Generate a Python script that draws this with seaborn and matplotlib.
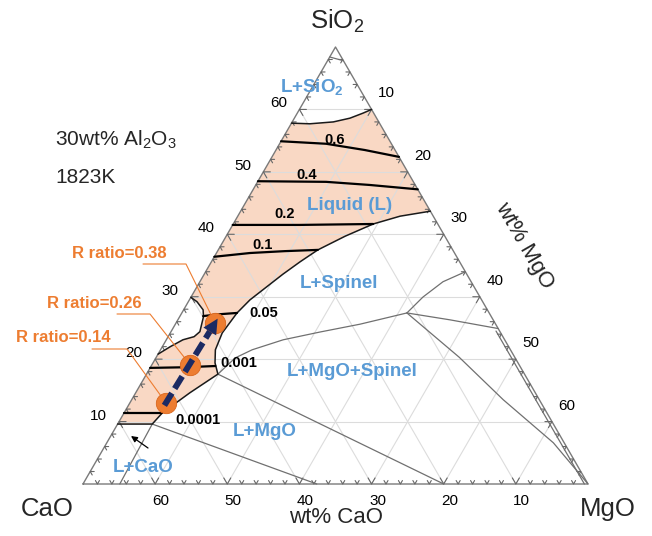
import numpy as np
import pandas as pd
import matplotlib
matplotlib.use("Agg")
import matplotlib.pyplot as plt
import seaborn as sns

# ---------------- data (wt%; Al2O3 fixed at 30 wt% -> CaO+SiO2+MgO = 70) -------------
TOTAL = 70.0
axis_ticks = [10, 20, 30, 40, 50, 60]

# L / L+SiO2 boundary
bnd_sio2_SiO2 = [57.8, 57.7, 58.0, 58.6, 59.4, 60.0]
bnd_sio2_MgO = [0.0, 2.6, 5.7, 7.7, 9.1, 10.0]
# liquidus towards L+Spinel / L+MgO (right edge -> junction)
liq_SiO2 = [43.7, 42.9, 41.65, 39.7, 37.5, 35.6, 33.6, 29.5, 27.4, 24.2, 21.5, 19.4, 17.6]
liq_MgO = [26.3, 22.5, 19.4, 16.5, 13.8, 12.3, 10.9, 8.4, 7.65, 7.2, 7.6, 8.6, 9.9]
# lower liquid boundary (junction -> CaO-SiO2 edge)
low_SiO2 = [17.6, 14.6, 11.4, 9.6, 9.6]
low_MgO = [9.9, 7.5, 5.3, 4.8, 0.0]
# small pocket on the CaO-SiO2 edge
pocket_SiO2 = [29.9, 29.2, 27.9, 26.8, 24.4, 23.6, 23.1, 22.0, 20.8]
pocket_MgO = [0.0, 1.2, 2.7, 3.3, 4.0, 3.6, 2.3, 1.1, 0.0]

# iso-R-ratio lines
iso_labels = ["0.6", "0.4", "0.2", "0.1", "0.05", "0.001", "0.0001"]
iso_06_SiO2, iso_06_MgO = [54.9, 54.5, 53.5, 52.4], [0.0, 6.45, 12.3, 17.6]
iso_04_SiO2, iso_04_MgO = [48.5, 48.4, 47.9, 47.2], [0.0, 9.5, 15.8, 22.8]
iso_02_SiO2, iso_02_MgO = [41.5, 41.5, 41.65], [0.0, 9.3, 19.4]
iso_01_SiO2, iso_01_MgO = [36.4, 37.0, 37.3, 37.5], [0.0, 4.65, 9.3, 13.8]
iso_005_SiO2, iso_005_MgO = [26.9, 27.2, 27.4], [3.2, 5.4, 7.65]
iso_0001_SiO2, iso_0001_MgO = [18.6, 18.7, 18.9], [0.0, 4.8, 8.9]
iso_00001_SiO2, iso_00001_MgO = [11.4, 11.4], [0.0, 5.3]

# other phase boundaries (thin grey)
b_mgo_sp_SiO2, b_mgo_sp_MgO = [17.6, 0.0], [9.9, 50.0]
b_cao_mgo_SiO2, b_cao_mgo_MgO = [9.6, 0.0], [4.8, 32.4]
b_cao_SiO2, b_cao_MgO = [9.6, 0.0], [4.8, 5.1]
b_sp_SiO2 = [17.6, 20.2, 21.5, 23.1, 24.35, 25.6, 27.4]
b_sp_MgO = [9.9, 11.0, 12.7, 16.2, 20.7, 25.6, 31.2]
b_up_SiO2, b_up_MgO = [27.4, 29.95, 32.4, 34.0], [31.2, 32.15, 33.7, 36.0]
b_edge_SiO2, b_edge_MgO = [27.4, 26.3, 24.9], [31.2, 37.7, 45.1]
b_corner_SiO2 = [27.4, 20.3, 13.5, 6.6, 0.0]
b_corner_MgO = [31.2, 42.0, 51.5, 61.9, 70.0]
b_rim_SiO2, b_rim_MgO = [24.5, 0.0], [45.0, 69.5]
b_apex_SiO2, b_apex_MgO = [68.4, 67.8], [0.0, 2.2]

# experimental compositions
pt_SiO2 = [13.0, 19.1, 25.8]
pt_MgO = [5.0, 5.3, 5.4]
pt_labels = ["R ratio=0.14", "R ratio=0.26", "R ratio=0.38"]

# ---------------- styling ----------------
sns.set_theme(style="white")
plt.rcParams["font.family"] = ["Liberation Sans", "DejaVu Sans"]
plt.rcParams["mathtext.fontset"] = "custom"
plt.rcParams["mathtext.rm"] = "Liberation Sans"
plt.rcParams["mathtext.it"] = "Liberation Sans:italic"
plt.rcParams["mathtext.bf"] = "Liberation Sans:bold"

BLUE = "#5a9bd5"
ORANGE = "#ED7D31"
FILL = "#f9d8c4"
NAVY = "#1b2a63"
GREY = "#707070"

X0, Y0, W, H = 83.0, 484.0, 505.0, 437.0


def xy(s, m):
    s = np.asarray(s, float)
    m = np.asarray(m, float)
    return X0 + W * (m + s / 2.0) / TOTAL, Y0 - H * s / TOTAL


fig = plt.figure(figsize=(6.52, 5.36), dpi=100)
ax = fig.add_axes([0, 0, 1, 1])
ax.set_xlim(0, 652)
ax.set_ylim(536, 0)
ax.axis("off")

# liquid region fill
poly_s = bnd_sio2_SiO2 + liq_SiO2 + low_SiO2[1:] + pocket_SiO2[::-1]
poly_m = bnd_sio2_MgO + liq_MgO + low_MgO[1:] + pocket_MgO[::-1]
px, py = xy(poly_s, poly_m)
ax.fill(px, py, color=FILL, zorder=1, lw=0)

# grid
for v in axis_ticks:
    for (s1, m1, s2, m2) in [(v, 0, v, TOTAL - v), (0, v, TOTAL - v, v), (0, TOTAL - v, TOTAL - v, 0)]:
        gx, gy = xy([s1, s2], [m1, m2])
        ax.plot(gx, gy, color="#dcdcdc", lw=0.8, zorder=2)

# triangle frame
tx, ty = xy([0, 0, TOTAL, 0], [0, TOTAL, 0, 0])
ax.plot(tx, ty, color="#7a7a7a", lw=1.0, zorder=3)

# ticks (chevrons)
d_ul, d_ur = np.array([-0.5, -0.866]), np.array([0.5, -0.866])
d_r, d_dr = np.array([1.0, 0.0]), np.array([0.5, 0.866])
d_l, d_dl = np.array([-1.0, 0.0]), np.array([-0.5, 0.866])
for v in range(2, 70, 2):
    L = 7.0 if v % 10 == 0 else 4.0
    specs = [(xy(0, TOTAL - v), d_ul, d_ur),  # bottom, CaO = v
             (xy(v, 0), d_r, d_dr),           # left, SiO2 = v
             (xy(TOTAL - v, v), d_l, d_dl)]   # right, MgO = v
    for (p, a1, a2) in specs:
        p = np.array([float(p[0]), float(p[1])])
        q1, q2 = p + L * a1, p + L * a2
        ax.plot([q1[0], p[0], q2[0]], [q1[1], p[1], q2[1]], color="#666666", lw=0.8, zorder=3)

# tick labels
for v in axis_ticks:
    x, y = xy(v, 0)
    ax.text(x - 21, y - 6, str(v), ha="center", va="center", fontsize=11, color="black")
    x, y = xy(0, TOTAL - v)
    ax.text(x + 6, y + 17, str(v), ha="center", va="center", fontsize=11, color="black")
    x, y = xy(TOTAL - v, v)
    ax.text(x + 15, y - 16, str(v), ha="center", va="center", fontsize=11, color="black")

# grey boundaries
grey_curves = [(b_mgo_sp_SiO2, b_mgo_sp_MgO), (b_cao_mgo_SiO2, b_cao_mgo_MgO), (b_cao_SiO2, b_cao_MgO),
               (b_sp_SiO2, b_sp_MgO), (b_up_SiO2, b_up_MgO), (b_edge_SiO2, b_edge_MgO),
               (b_corner_SiO2, b_corner_MgO), (b_rim_SiO2, b_rim_MgO), (b_apex_SiO2, b_apex_MgO)]
rows = []
for i, (s, m) in enumerate(grey_curves):
    gx, gy = xy(s, m)
    for j, (a, b) in enumerate(zip(gx, gy)):
        rows.append({"x": a, "y": b, "curve": i, "order": j})
df_grey = pd.DataFrame(rows)
sns.lineplot(data=df_grey, x="x", y="y", units="curve", estimator=None, sort=False,
             color=GREY, linewidth=0.9, ax=ax, legend=False, zorder=4)

# liquid boundaries (black thin)
rows = []
for i, (s, m) in enumerate([(bnd_sio2_SiO2, bnd_sio2_MgO), (liq_SiO2 + low_SiO2[1:], liq_MgO + low_MgO[1:]),
                            (pocket_SiO2, pocket_MgO)]):
    gx, gy = xy(s, m)
    for j, (a, b) in enumerate(zip(gx, gy)):
        rows.append({"x": a, "y": b, "curve": i, "order": j})
df_bnd = pd.DataFrame(rows)
sns.lineplot(data=df_bnd, x="x", y="y", units="curve", estimator=None, sort=False,
             color="#1a1a1a", linewidth=1.1, ax=ax, legend=False, zorder=5)

# iso-R lines (black thick)
iso_curves = [(iso_06_SiO2, iso_06_MgO), (iso_04_SiO2, iso_04_MgO), (iso_02_SiO2, iso_02_MgO),
              (iso_01_SiO2, iso_01_MgO), (iso_005_SiO2, iso_005_MgO), (iso_0001_SiO2, iso_0001_MgO),
              (iso_00001_SiO2, iso_00001_MgO)]
rows = []
for lab, (s, m) in zip(iso_labels, iso_curves):
    gx, gy = xy(s, m)
    for j, (a, b) in enumerate(zip(gx, gy)):
        rows.append({"x": a, "y": b, "level": lab, "order": j})
df_iso = pd.DataFrame(rows)
sns.lineplot(data=df_iso, x="x", y="y", units="level", estimator=None, sort=False,
             color="black", linewidth=1.6, ax=ax, legend=False, zorder=6)

iso_label_pos = [(335, 140), (307, 175), (285, 214), (263, 245), (264, 313), (239, 363), (198, 420)]
for lab, (x, y) in zip(iso_labels, iso_label_pos):
    ax.text(x, y, lab, ha="center", va="center", fontsize=10.5, fontweight="bold", color="black", zorder=7)

# phase labels
phase_labels = [("L+SiO$_\\mathbf{2}$", 312, 92), ("Liquid (L)", 350, 210), ("L+Spinel", 339, 288),
                ("L+MgO+Spinel", 352, 376), ("L+MgO", 265, 436), ("L+CaO", 143, 472)]
for lab, x, y in phase_labels:
    ax.text(x, y, lab, ha="center", va="baseline", fontsize=13.5, fontweight="bold", color=BLUE, zorder=7)

# small arrow pointing to L+CaO region
ax.annotate("", xy=(131, 436), xytext=(148, 448),
            arrowprops=dict(arrowstyle="-|>", color="black", lw=0.9, mutation_scale=9,
                            shrinkA=0, shrinkB=0), zorder=7)

# experimental points
dx, dy = xy(pt_SiO2, pt_MgO)
df_pts = pd.DataFrame({"x": dx, "y": dy, "label": pt_labels})

# leader lines + labels
label_pos = [(63, 338), (94, 303), (119, 253)]
under = [(92, 127, 349), (117, 150, 314), (143, 186, 264)]
for (lx, ly), (u0, u1, uy), x, y, lab in zip(label_pos, under, dx, dy, pt_labels):
    ax.plot([u0, u1, x], [uy, uy, y], color=ORANGE, lw=0.8, zorder=8)
    ax.text(lx, ly, lab, ha="center", va="center", fontsize=12, fontweight="bold", color=ORANGE, zorder=8)

# dashed arrow through the points
p0 = np.array([dx[0], dy[0]])
p2 = np.array([dx[-1], dy[-1]])
d = (p2 - p0) / np.linalg.norm(p2 - p0)
nrm = np.array([-d[1], d[0]])
tip = p2 + 5 * d
base = tip - 15 * d
start = p0 - 3 * d

sns.scatterplot(data=df_pts, x="x", y="y", s=215, color=ORANGE, edgecolor="#d9661c",
                linewidth=0.6, ax=ax, legend=False, zorder=9)
ax.plot([start[0], base[0]], [start[1], base[1]], color=NAVY, lw=4.3,
        dashes=(2.4, 0.9), solid_capstyle="butt", dash_capstyle="butt", zorder=10)
head = np.array([tip, base + 7.5 * nrm, base - 7.5 * nrm])
ax.fill(head[:, 0], head[:, 1], color=NAVY, zorder=10, lw=0)

# corner and axis titles
ax.text(337, 29, "SiO$_2$", ha="center", va="baseline", fontsize=18.5)
ax.text(47, 516, "CaO", ha="center", va="baseline", fontsize=18.5)
ax.text(608, 516, "MgO", ha="center", va="baseline", fontsize=18.5)
ax.text(336, 523, "wt% CaO", ha="center", va="baseline", fontsize=16)
ax.text(524, 246, "wt% MgO", ha="center", va="center", fontsize=16, rotation=-60,
        rotation_mode="anchor")
ax.text(55, 145.5, "30wt% Al$_2$O$_3$", ha="left", va="baseline", fontsize=15)
ax.text(55, 183, "1823K", ha="left", va="baseline", fontsize=15)

fig.savefig("out.png", dpi=100)
